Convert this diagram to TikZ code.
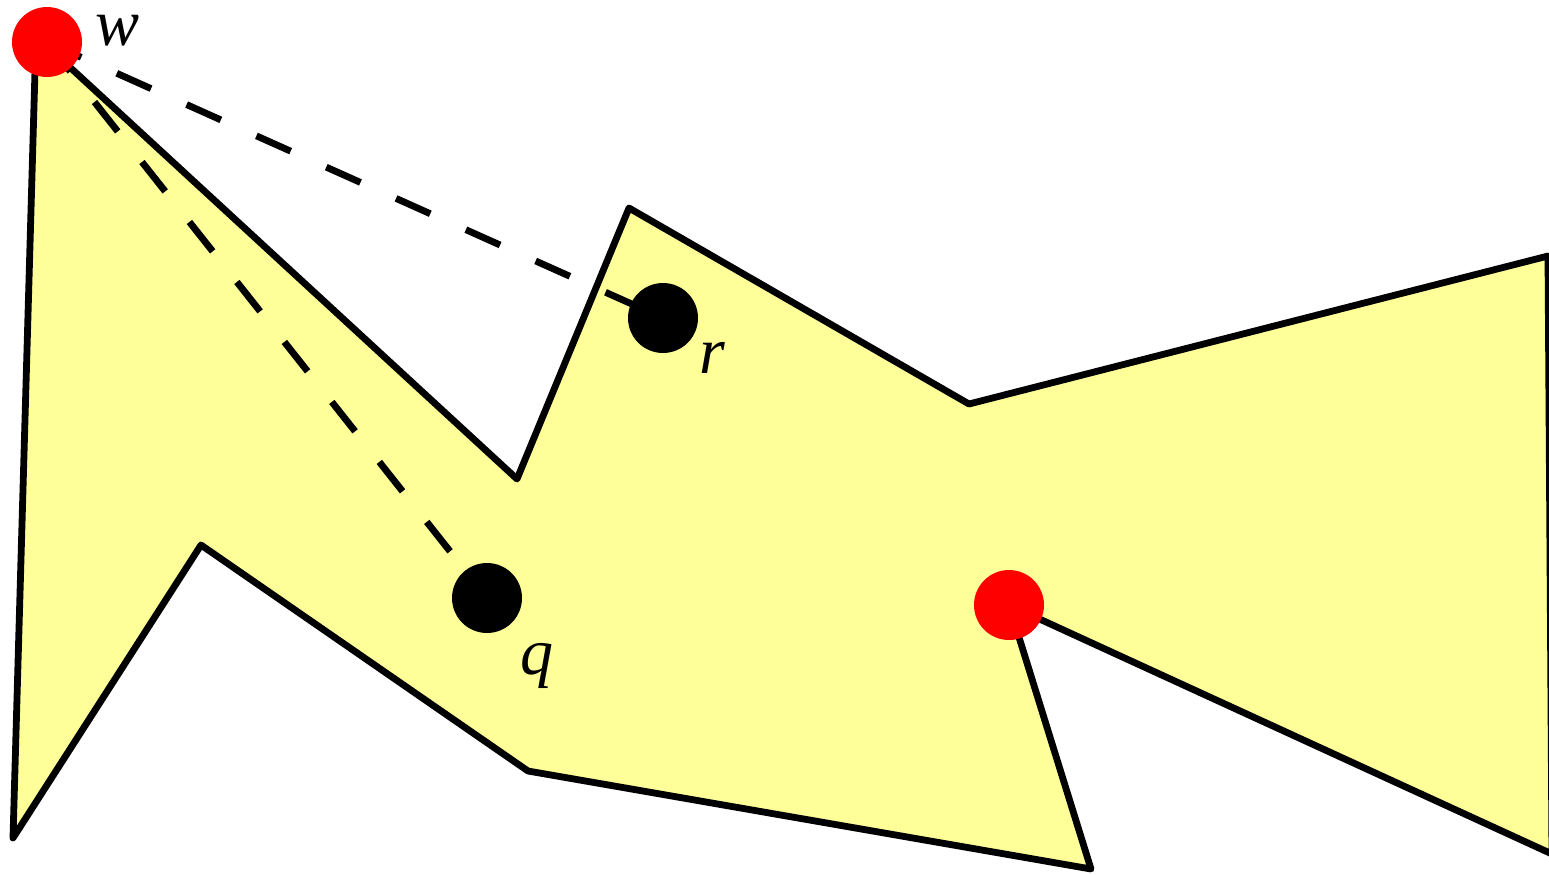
\documentclass[tikz,border=0pt]{standalone}
\usepackage{fontspec}
\setmainfont{Liberation Serif}
\usetikzlibrary{positioning}
\definecolor{regionfill}{RGB}{255,255,153}

\begin{document}
\begin{tikzpicture}[x=0.5pt,y=-0.5pt,
  edge/.style={draw=black,line width=3.4pt,line join=round,line cap=round},
  sight/.style={draw=black,line width=3.4pt,dash pattern=on 18.75pt off 19.5pt},
  reddot/.style={circle,fill=red,inner sep=0pt,minimum size=35pt},
  blackdot/.style={circle,fill=black,inner sep=0pt,minimum size=35pt},
  lbl/.style={font=\fontsize{33}{36}\selectfont\itshape,inner sep=0pt}]
  \useasboundingbox (0,0) rectangle (1549,874);
  \clip (0,0) rectangle (1549,874);
  \coordinate (w) at (47,42);
  \coordinate (v) at (1009,605);
  \coordinate (r) at (663,318);
  \coordinate (q) at (487,598);
  % polygon
  \filldraw[edge,fill=regionfill] (36,36) -- (13,838) -- (201,545) -- (528,771)
    -- (1091,869) -- (v) -- (1552,854) -- (1548,256) -- (969,404) -- (629,208)
    -- (517,479) -- cycle;
  % visibility segments
  \draw[sight] (w) -- (r);
  \draw[sight] (w) -- (q);
  \node[reddot] (wdot) at (w) {};
  \node[reddot] (vdot) at (v) {};
  \node[blackdot] (rdot) at (r) {};
  \node[blackdot] (qdot) at (q) {};
  \node[lbl] (wlbl) at (118,31) {w};
  \node[lbl] (rlbl) at (712,358) {r};
  \node[lbl] (qlbl) at (537,666) {q};
\end{tikzpicture}
\end{document}
